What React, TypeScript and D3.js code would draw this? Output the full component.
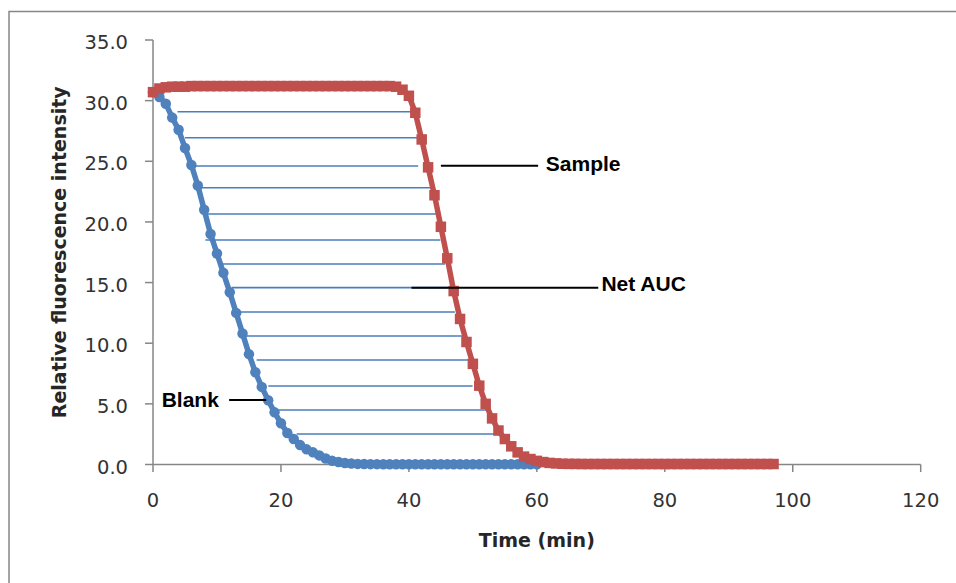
import React from "react";
import * as d3 from "d3";

// ---------- data ----------
const blankValues: number[] = [
  30.7, 30.3, 29.75, 28.6, 27.6, 26.1, 24.7, 23.0, 21.0, 19.0,
  17.4, 15.8, 14.2, 12.5, 10.8, 9.1, 7.6, 6.4, 5.3, 4.3,
  3.4, 2.6, 2.1, 1.6, 1.25, 1.0, 0.75, 0.5, 0.3, 0.2,
  0.12, 0.08, 0.05, 0.04, 0.03, 0.03, 0.02, 0.02, 0.02, 0.02,
  0.02, 0.02, 0.02, 0.02, 0.02, 0.02, 0.02, 0.02, 0.02, 0.02,
  0.02, 0.02, 0.02, 0.02, 0.02, 0.02, 0.02, 0.02, 0.02, 0.02, 0.02,
];

const sampleValues: number[] = [
  30.7, 31.0, 31.1, 31.15, 31.15, 31.15, 31.2, 31.2, 31.2, 31.2,
  31.2, 31.2, 31.2, 31.2, 31.2, 31.2, 31.2, 31.2, 31.2, 31.2,
  31.2, 31.2, 31.2, 31.2, 31.2, 31.2, 31.2, 31.2, 31.2, 31.2,
  31.2, 31.2, 31.2, 31.2, 31.2, 31.2, 31.2, 31.2, 31.15, 30.9,
  30.4, 29.0, 26.8, 24.5, 22.2, 19.6, 17.0, 14.3, 12.0, 10.1,
  8.3, 6.5, 5.0, 3.8, 2.8, 2.1, 1.5, 1.0, 0.65, 0.45,
  0.3, 0.2, 0.13, 0.09, 0.06, 0.05, 0.05, 0.04, 0.04, 0.04,
  0.04, 0.04, 0.04, 0.04, 0.04, 0.04, 0.04, 0.04, 0.04, 0.04,
  0.04, 0.04, 0.04, 0.04, 0.04, 0.04, 0.04, 0.04, 0.04, 0.04,
  0.04, 0.04, 0.04, 0.04, 0.04, 0.04, 0.04, 0.04,
];

// Net AUC hatch lines (value level, start time, end time)
const hatchLevels: number[] = [29.08, 26.94, 24.61, 22.82, 20.65, 18.51, 16.53, 14.58, 12.57, 10.59, 8.61, 6.47, 4.49, 2.51];
const hatchStart: number[] = [3.83, 5.0, 6.33, 7.34, 8.6, 8.2, 10.73, 12.3, 13.48, 14.38, 16.2, 18.02, 19.58, 22.45];
const hatchEnd: number[] = [40.47, 41.45, 41.45, 43.67, 44.33, 44.92, 45.63, 46.4, 47.19, 48.39, 49.89, 49.95, 52.55, 54.64];

const xTicks: number[] = [0, 20, 40, 60, 80, 100, 120];
const yTicks: number[] = [0, 5, 10, 15, 20, 25, 30, 35];

const xTitle = "Time (min)";
const yTitle = "Relative fluorescence intensity";

// annotations: label, leader from (t0,v)->(t1,v), text position
const annotations = [
  { label: "Sample", v: 24.63, t0: 45.0, t1: 60.2, tx: 61.4, tv: 24.2 },
  { label: "Net AUC", v: 14.58, t0: 40.4, t1: 69.6, tx: 70.1, tv: 14.3 },
  { label: "Blank", v: 5.31, t0: 11.9, t1: 17.7, tx: 1.35, tv: 4.75 },
];

const BLUE = "#4F81BD";
const RED = "#C0504D";
const HATCH = "#4A7EBB";
const AXIS = "#868686";
const FONT = "DejaVu Sans, Verdana, sans-serif";
const LABEL_FONT = "Liberation Sans, Arial, sans-serif";

export default function App() {
  const W = 956;
  const H = 583;
  const x = d3.scaleLinear().domain([0, 120]).range([153, 920.7]);
  const y = d3.scaleLinear().domain([0, 35]).range([464.5, 40]);

  const blank = blankValues.map((v, i) => [i, v] as [number, number]);
  const sample = sampleValues.map((v, i) => [i, v] as [number, number]);
  const line = d3
    .line<[number, number]>()
    .x((d) => x(d[0]))
    .y((d) => y(d[1]));

  const ms = 10.5;

  return (
    <svg
      width={W}
      height={H}
      style={{ position: "absolute", left: 0, top: 0, background: "#fff" }}
    >
      <rect x={0} y={0} width={W} height={H} fill="#fff" />
      <rect x={9} y={11.5} width={1200} height={1200} fill="none" stroke={AXIS} strokeWidth={1.5} />

      {/* axes */}
      <line x1={x(0)} x2={x(0)} y1={y(35)} y2={y(0)} stroke={AXIS} strokeWidth={1.5} />
      <line x1={x(0)} x2={x(120)} y1={y(0)} y2={y(0)} stroke={AXIS} strokeWidth={1.5} />
      {yTicks.map((t) => (
        <g key={"y" + t}>
          <line x1={x(0) - 8} x2={x(0)} y1={y(t)} y2={y(t)} stroke={AXIS} strokeWidth={1.5} />
          <text
            x={128}
            y={y(t) + 9}
            textAnchor="end"
            fontFamily={FONT}
            fontSize={19.5}
            fill="#333"
          >
            {t.toFixed(1)}
          </text>
        </g>
      ))}
      {xTicks.map((t) => (
        <g key={"x" + t}>
          <line x1={x(t)} x2={x(t)} y1={y(0)} y2={y(0) + 7.5} stroke={AXIS} strokeWidth={1.5} />
          <text
            x={x(t)}
            y={507}
            textAnchor="middle"
            fontFamily={FONT}
            fontSize={19.5}
            fill="#333"
          >
            {t}
          </text>
        </g>
      ))}
      <text
        x={(x(0) + x(120)) / 2}
        y={546.5}
        textAnchor="middle"
        fontFamily={FONT}
        fontWeight="bold"
        fontSize={19}
        fill="#262626"
      >
        {xTitle}
      </text>
      <text
        transform={`translate(66,${(y(0) + y(35)) / 2}) rotate(-90)`}
        textAnchor="middle"
        fontFamily={FONT}
        fontWeight="bold"
        fontSize={19}
        fill="#262626"
      >
        {yTitle}
      </text>

      {/* blank series */}
      <path d={line(blank) || ""} fill="none" stroke={BLUE} strokeWidth={5.5} strokeLinejoin="round" />
      {blank.map((d, i) => (
        <circle key={"b" + i} cx={x(d[0])} cy={y(d[1])} r={ms / 2} fill={BLUE} />
      ))}

      {/* hatch lines */}
      {hatchLevels.map((v, i) => (
        <line
          key={"h" + i}
          x1={x(hatchStart[i])}
          x2={x(hatchEnd[i])}
          y1={y(v)}
          y2={y(v)}
          stroke={HATCH}
          strokeWidth={1.6}
        />
      ))}

      {/* sample series */}
      <path d={line(sample) || ""} fill="none" stroke={RED} strokeWidth={5.5} strokeLinejoin="round" />
      {sample.map((d, i) => (
        <rect
          key={"s" + i}
          x={x(d[0]) - ms / 2}
          y={y(d[1]) - ms / 2}
          width={ms}
          height={ms}
          fill={RED}
        />
      ))}

      {/* annotations */}
      {annotations.map((a) => (
        <g key={a.label}>
          <line x1={x(a.t0)} x2={x(a.t1)} y1={y(a.v)} y2={y(a.v)} stroke="#000" strokeWidth={2} />
          <text
            x={x(a.tx)}
            y={y(a.tv)}
            fontFamily={LABEL_FONT}
            fontWeight="bold"
            fontSize={21}
            fill="#000"
          >
            {a.label}
          </text>
        </g>
      ))}
    </svg>
  );
}
